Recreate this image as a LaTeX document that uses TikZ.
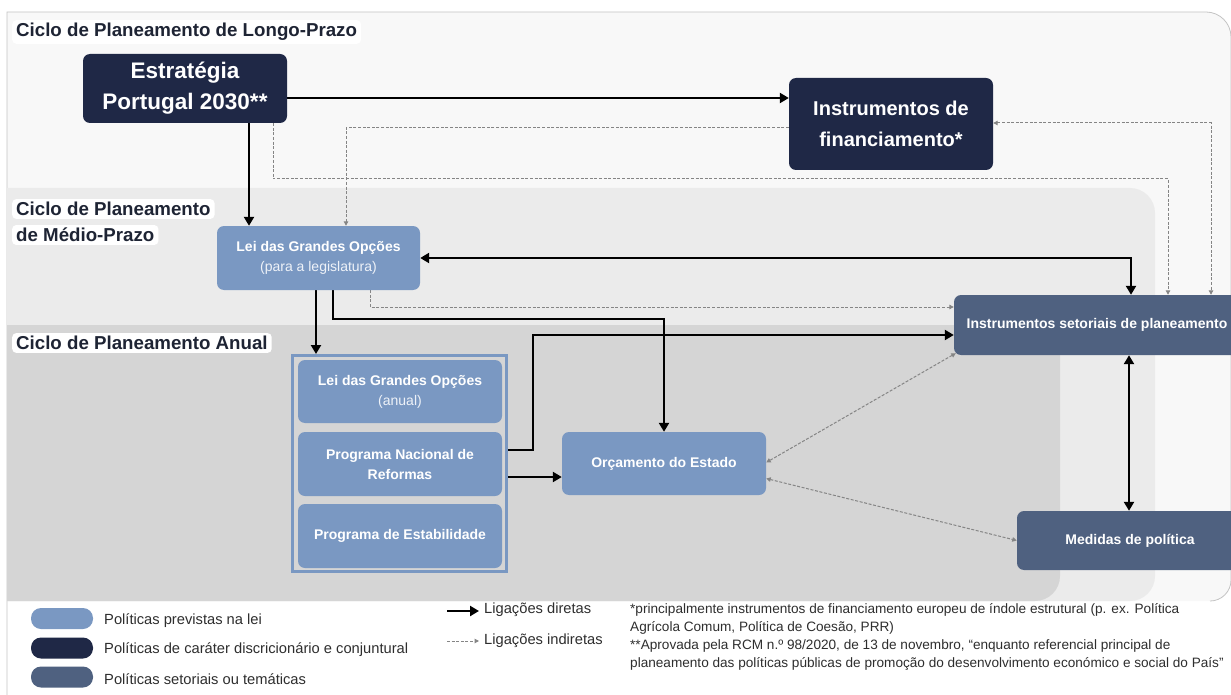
\documentclass[tikz,border=0pt]{standalone}
\usepackage{fontspec}
\setmainfont{Liberation Sans}
\usetikzlibrary{arrows.meta,calc}
\definecolor{navy}{HTML}{1F2846}
\definecolor{steel}{HTML}{7A98C2}
\definecolor{slate}{HTML}{4F6180}
\definecolor{outerbg}{HTML}{F8F8F8}
\definecolor{midbg}{HTML}{EBEBEB}
\definecolor{annbg}{HTML}{D5D5D5}
\definecolor{bordergray}{HTML}{C4C4C4}
\definecolor{dgray}{HTML}{858585}
\definecolor{titlecol}{HTML}{1E2434}
\definecolor{legcol}{HTML}{2E2E2E}
\definecolor{subtxt}{HTML}{EEF2F8}
\pgfdeclarelayer{back}
\pgfdeclarelayer{mid}
\pgfsetlayers{back,mid,main}
\begin{document}
\begin{tikzpicture}[x=1pt,y=1pt,
  box/.style={rounded corners=7pt, inner sep=0pt, align=center, text=white,
    font=\bfseries\fontsize{14}{20}\selectfont},
  paneltitle/.style={fill=white, rounded corners=4pt, inner xsep=4pt, inner ysep=3pt,
    text=titlecol, font=\bfseries\fontsize{18.7}{26}\selectfont, anchor=west},
  direct/.style={line width=2.6pt, draw=black, -{Triangle[length=9pt,width=10pt]}},
  bothd/.style={{Triangle[length=9pt,width=10pt]}-{Triangle[length=9pt,width=10pt]}},
  ind/.style={line width=1pt, draw=dgray, dash pattern=on 3pt off 1.6pt, -{Triangle[length=4.5pt,width=4.5pt]}},
  bothi/.style={{Triangle[length=4.5pt,width=4.5pt]}-{Triangle[length=4.5pt,width=4.5pt]}},
  pill/.style={rounded corners=10pt, minimum width=62pt, minimum height=21pt, inner sep=0pt},
  legtext/.style={anchor=west, inner sep=0pt, text=legcol, font=\fontsize{14.7}{18}\selectfont},
  foot/.style={anchor=north west, inner sep=0pt, align=left, text=legcol, font=\fontsize{13.6}{18.2}\selectfont}
]
\useasboundingbox (0,0) rectangle (1231,-695);

% panels
\begin{pgfonlayer}{back}
\fill[white] (0,0) rectangle (1231,-695);
\fill[outerbg] (7,-601) -- (7,-12) -- (1206,-12) arc[start angle=90,end angle=0,radius=25] -- (1231,-580) arc[start angle=0,end angle=-90,radius=21] -- cycle;
\draw[bordergray, line width=0.8pt] (7,-695) -- (7,-12) -- (1206,-12) arc[start angle=90,end angle=0,radius=25] -- (1231,-580) arc[start angle=0,end angle=-90,radius=21];
\fill[midbg] (7,-601) -- (7,-188) -- (1130,-188) arc[start angle=90,end angle=0,radius=25] -- (1155,-576) arc[start angle=0,end angle=-90,radius=25] -- cycle;
\fill[annbg] (7,-601) -- (7,-325) -- (1060,-325) -- (1060,-576) arc[start angle=0,end angle=-90,radius=25] -- cycle;
\end{pgfonlayer}

% panel titles
\node[paneltitle] (t1) at (12,-32) {Ciclo de Planeamento de Longo-Prazo};
\node[paneltitle] (t2a) at (12,-209) {Ciclo de Planeamento};
\node[paneltitle] (t2b) at (12,-235) {de Médio-Prazo};
\node[paneltitle] (t3) at (12,-343) {Ciclo de Planeamento Anual};

% nodes
\node[box, fill=navy, minimum width=204pt, minimum height=69pt,
  font=\bfseries\fontsize{22.5}{31}\selectfont] (E) at (185,-88.5) {Estratégia\\Portugal 2030**};
\node[box, fill=navy, minimum width=204pt, minimum height=92pt,
  font=\bfseries\fontsize{20}{31}\selectfont] (IF) at (891,-124) {Instrumentos de\\financiamento*};
\node[box, fill=steel, minimum width=203pt, minimum height=64pt] (LGO) at (318.5,-258)
  {Lei das Grandes Opções\\{\mdseries\color{subtxt}(para a legislatura)}};
\node[draw=steel, line width=3pt, fill=annbg, minimum width=214pt, minimum height=216pt, inner sep=0pt] (grp) at (399.5,-463.5) {};
\node[box, fill=steel, minimum width=204pt, minimum height=63pt] (LGOA) at (400,-391.5)
  {Lei das Grandes Opções\\{\mdseries\color{subtxt}(anual)}};
\node[box, fill=steel, minimum width=204pt, minimum height=64pt] (PNR) at (400,-464)
  {Programa Nacional de\\Reformas};
\node[box, fill=steel, minimum width=204pt, minimum height=64pt] (PE) at (400,-536)
  {Programa de Estabilidade};
\node[box, fill=steel, minimum width=204pt, minimum height=63pt] (OE) at (664,-463.5)
  {Orçamento do Estado};
\node[box, fill=slate, minimum width=286pt, minimum height=60pt] (ISP) at (1097,-325)
  {Instrumentos setoriais de planeamento};
\node[box, fill=slate, minimum width=226pt, minimum height=59pt] (MP) at (1130,-540.5)
  {Medidas de política};

% helper coordinates
\coordinate (h98) at (0,-98);
\coordinate (v249) at (249,0);
\coordinate (v316) at (316,0);
\coordinate (v333) at (333,0);
\coordinate (h319) at (0,-319);
\coordinate (v664) at (664,0);
\coordinate (v1131) at (1131,0);
\coordinate (h450) at (0,-450);
\coordinate (v533) at (533,0);
\coordinate (h335) at (0,-335);
\coordinate (h477) at (0,-477);
\coordinate (v1129) at (1129,0);
\coordinate (v273) at (273,0);
\coordinate (h179) at (0,-179);
\coordinate (v1168) at (1168,0);
\coordinate (h128) at (0,-128);
\coordinate (v346) at (346,0);
\coordinate (h123) at (0,-123);
\coordinate (v1211) at (1211,0);
\coordinate (v370) at (370,0);
\coordinate (h307) at (0,-307);

\begin{pgfonlayer}{mid}
% indirect links
\draw[ind] (E.south -| v273) |- (v1168 |- h179) -- (ISP.north -| v1168);
\draw[ind] (IF.west |- h128) -| (LGO.north -| v346);
\draw[ind, bothi] (IF.east |- h123) -| (ISP.north -| v1211);
\draw[ind] (LGO.south -| v370) |- (ISP.west |- h307);
\draw[ind, bothi] ([xshift=2pt,yshift=2pt]ISP.south west) -- ([yshift=1pt]OE.east);
\draw[ind, bothi] ([yshift=-15pt]OE.east) -- (MP.west);
% direct links
\draw[direct] (E.east |- h98) -- (IF.west |- h98);
\draw[direct] (E.south -| v249) -- (LGO.north -| v249);
\draw[direct] (LGO.south -| v316) -- (grp.north -| v316);
\draw[direct] (LGO.south -| v333) |- (v664 |- h319) -- (OE.north -| v664);
\draw[direct, bothd] (LGO.east) -| (ISP.north -| v1131);
\draw[direct] (PNR.east |- h450) -| (v533 |- h335) -- (ISP.west |- h335);
\draw[direct] (PNR.east |- h477) -- (OE.west |- h477);
\draw[direct, bothd] (ISP.south -| v1129) -- (MP.north -| v1129);
\end{pgfonlayer}

% legend
\node[pill, fill=steel] (s1) at (62,-618.5) {};
\node[pill, fill=navy] (s2) at (62,-648) {};
\node[pill, fill=slate] (s3) at (62,-677) {};
\node[legtext] (l1) at (104,-621) {Políticas previstas na lei};
\node[legtext] (l2) at (104,-650) {Políticas de caráter discricionário e conjuntural};
\node[legtext] (l3) at (104,-679) {Políticas setoriais ou temáticas};
\node[legtext] (ld) at (484,-610) {Ligações diretas};
\node[legtext] (li) at (484,-641) {Ligações indiretas};
\draw[direct] ([xshift=-37pt,yshift=-1pt]ld.west) -- ([xshift=-5pt,yshift=-1pt]ld.west);
\draw[ind] ([xshift=-37pt]li.west) -- ([xshift=-5pt]li.west);

\node[foot] (fn) at (630,-603) {*principalmente instrumentos de financiamento europeu de índole estrutural (p. ex. Política\\
Agrícola Comum, Política de Coesão, PRR)\\
**Aprovada pela RCM n.º 98/2020, de 13 de novembro, “enquanto referencial principal de\\
planeamento das políticas públicas de promoção do desenvolvimento económico e social do País”};
\end{tikzpicture}
\end{document}
